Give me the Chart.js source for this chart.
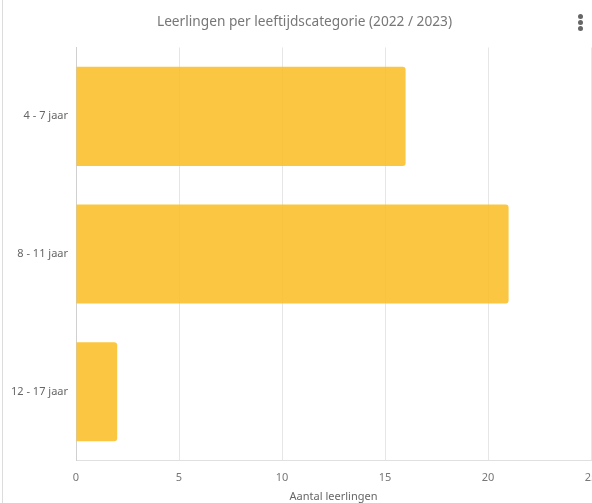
<!DOCTYPE html>
<html>
<head>
<meta charset="utf-8">
<script src="https://cdn.jsdelivr.net/npm/chart.js@4.4.1/dist/chart.umd.min.js"></script>
<style>
  html, body { margin: 0; padding: 0; background: #fff; overflow: hidden; }
  #wrap { position: relative; width: 592px; height: 503px; overflow: hidden; }
  #card { position: absolute; left: 2px; top: 0; width: 640px; height: 503px; border-left: 1px solid #dcdcdc; }
  #box { position: absolute; left: 0; top: 0; width: 620px; height: 503px; }
  .dot { position: absolute; left: 578px; width: 5px; height: 5px; border-radius: 50%; background: #666; }
</style>
</head>
<body>
<div id="wrap">
  <div id="card"></div>
  <div id="box"><canvas id="leeftijdChart"></canvas></div>
  <div class="dot" style="top:14px"></div>
  <div class="dot" style="top:20px"></div>
  <div class="dot" style="top:26px"></div>
</div>
<script>
// gegevens
const categorieen = ['4 - 7 jaar', '8 - 11 jaar', '12 - 17 jaar'];
const aantalLeerlingen = [16, 21, 2];
const titel = 'Leerlingen per leeftijdscategorie (2022 / 2023)';
const asTitel = 'Aantal leerlingen';

const ctx = document.getElementById('leeftijdChart').getContext('2d');
Chart.defaults.font.family = "'Noto Sans', sans-serif";
Chart.defaults.color = '#666';

// titel iets naar rechts, zoals in het origineel
const titelVerschuiving = {
    id: 'titelVerschuiving',
    afterLayout(chart) {
        chart.titleBlock.left += 15;
    },
};

const config = {
    type: 'bar',
    data: {
        labels: categorieen,
        datasets: [{
            label: asTitel,
            data: aantalLeerlingen,
            backgroundColor: 'rgba(250, 190, 35, 0.86)',
            borderRadius: 3,
            borderSkipped: 'start',
        }],
    },
    options: {
        indexAxis: 'y',
        responsive: true,
        maintainAspectRatio: false,
        animation: false,
        layout: { padding: { left: 3, right: 29, top: 0, bottom: 0 } },
        plugins: {
            legend: { display: false },
            tooltip: { enabled: false },
            title: {
                display: true,
                text: titel,
                color: '#777',
                font: { size: 13.7, weight: 'normal' },
                padding: { top: 14, bottom: 17 },
            },
        },
        scales: {
            x: {
                min: 0,
                max: 25,
                ticks: { stepSize: 5, font: { size: 11 }, color: '#777', padding: 11 },
                grid: { color: '#e6e6e6', drawTicks: false },
                border: { color: '#e0e0e0' },
                title: { display: true, text: asTitel, color: '#666', font: { size: 11 }, padding: { top: -6, bottom: 0 } },
            },
            y: {
                ticks: { font: { size: 11 }, color: '#666', padding: 8 },
                grid: { display: false, drawTicks: false },
                border: { color: '#d0d0d0' },
            },
        },
    },
    plugins: [titelVerschuiving],
};
new Chart(ctx, config);
</script>
</body>
</html>
